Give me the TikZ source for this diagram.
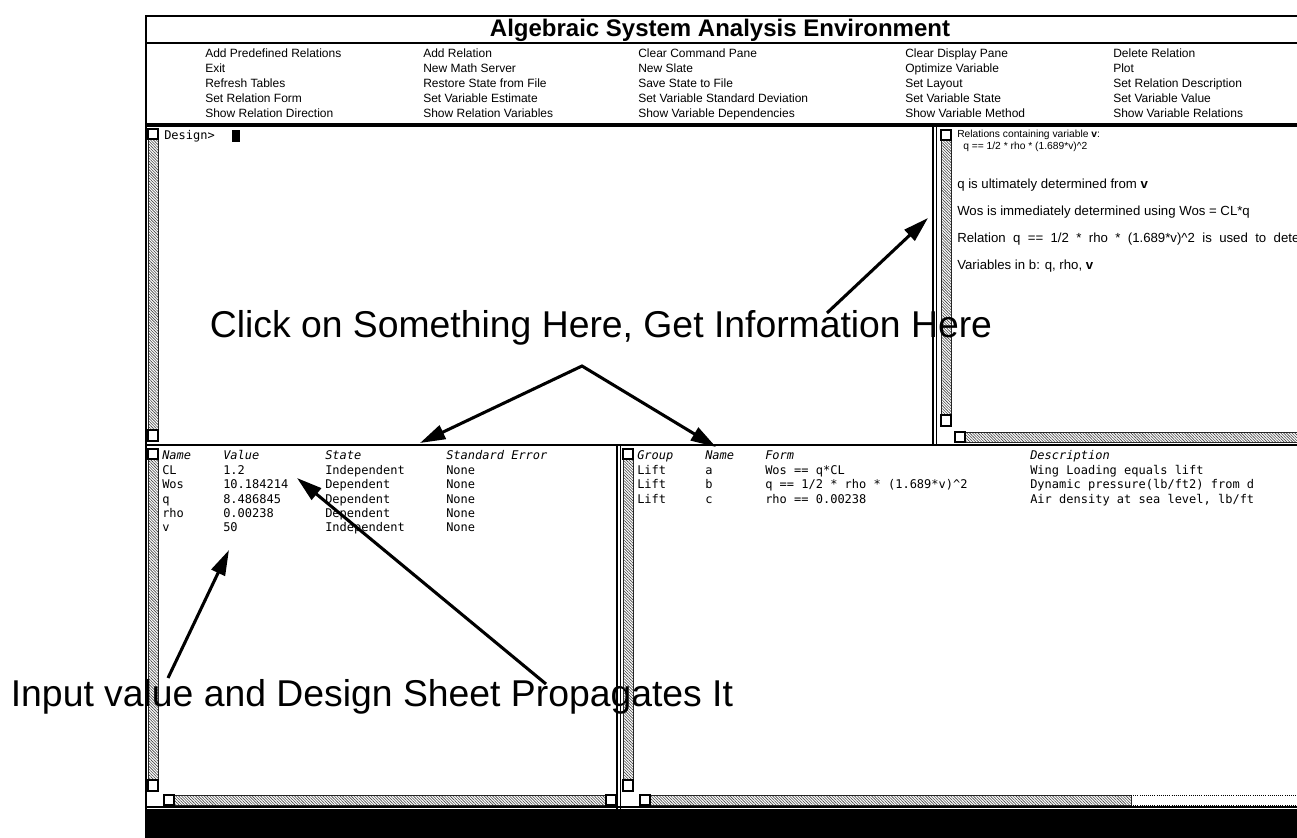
\documentclass[tikz,border=0pt]{standalone}
\usepackage{fontspec}
\setmainfont{Liberation Sans}
\newfontfamily\fixedfont{DejaVu Sans Mono}
\usetikzlibrary{arrows.meta,patterns.meta}
\tikzset{
hatched/.style={draw=black!85,line width=0.6pt,pattern={Lines[angle=-45,distance=1.5pt,line width=0.45pt]},pattern color=black!75},
thumb/.style={draw=black,fill=white,line width=0.8pt},
callout/.style={line width=2.3pt,-{Triangle[length=19pt,width=11pt]}},
menuitem/.style={anchor=base west,inner sep=0pt,font=\fontsize{9}{9}\selectfont},
infoline/.style={anchor=base west,inner sep=0pt,font=\fontsize{7.7}{7.7}\selectfont},
infobig/.style={anchor=base west,inner sep=0pt,font=\fontsize{9.9}{9.9}\selectfont},
cell/.style={anchor=base west,inner sep=0pt,font=\fixedfont\fontsize{9}{9}\selectfont},
headcell/.style={cell,font=\fixedfont\itshape\fontsize{9}{9}\selectfont},
caption/.style={inner sep=0pt,font=\fontsize{28}{28}\selectfont},
titletext/.style={inner sep=0pt,font=\bfseries\fontsize{18}{18}\selectfont}
}
\newcommand{\vslider}[3]{
\begin{scope}[shift={(#1,#2)}]
\draw[hatched] (0,10) rectangle (10,#3-#2-11);
\draw[thumb] (0,0) rectangle (10,10);
\draw[thumb] (0,#3-#2-11) rectangle (10,#3-#2);
\end{scope}
}
\newcommand{\hslider}[3]{
\begin{scope}[shift={(#2,#1)}]
\draw[hatched] (10,0) rectangle (#3-#2,10);
\draw[thumb] (0,0) rectangle (10,10);
\end{scope}
}
\newcommand{\menucol}[7]{
\node[menuitem] (#1a) at (#2,58) {#3};
\node[menuitem] (#1b) at (#2,73) {#4};
\node[menuitem] (#1c) at (#2,88) {#5};
\node[menuitem] (#1d) at (#2,103) {#6};
\node[menuitem] (#1e) at (#2,118) {#7};
}
\newcommand{\varrow}[6]{
\node[cell] (#1n) at (162,#2) {#3};
\node[cell] (#1v) at (223,#2) {#4};
\node[cell] (#1s) at (325,#2) {#5};
\node[cell] (#1e) at (446,#2) {#6};
}
\newcommand{\relrow}[6]{
\node[cell] (#1g) at (637,#2) {#3};
\node[cell] (#1n) at (705,#2) {#4};
\node[cell] (#1f) at (765,#2) {#5};
\node[cell] (#1d) at (1030,#2) {#6};
}
\begin{document}
\begin{tikzpicture}[x=0.75pt,y=-0.75pt]
\useasboundingbox (0,0) rectangle (1297,838);
\clip (0,0) rectangle (1297,838);
\draw[line width=1pt] (145,16) -- (1310,16);
\draw[line width=1pt] (146,16) -- (146,809);
\draw[line width=1.6pt] (145,43) -- (1310,43);
\draw[line width=2.4pt] (145,125) -- (1310,125);
\draw[line width=1.6pt] (145,445) -- (1310,445);
\draw[line width=0.8pt] (933,125) -- (933,445);
\draw[line width=1.2pt] (936.5,125) -- (936.5,445);
\draw[line width=0.8pt] (617,445) -- (617,809);
\draw[line width=0.8pt] (620.5,445) -- (620.5,809);
\draw[line width=1pt] (145,807) -- (1310,807);
\fill (145,809) rectangle (1310,838);
\node[titletext] (title) at (720,30) {Algebraic System Analysis Environment};
\menucol{colA}{205}{Add Predefined Relations}{Exit}{Refresh Tables}{Set Relation Form}{Show Relation Direction}
\menucol{colB}{423}{Add Relation}{New Math Server}{Restore State from File}{Set Variable Estimate}{Show Relation Variables}
\menucol{colC}{638}{Clear Command Pane}{New Slate}{Save State to File}{Set Variable Standard Deviation}{Show Variable Dependencies}
\menucol{colD}{905}{Clear Display Pane}{Optimize Variable}{Set Layout}{Set Variable State}{Show Variable Method}
\menucol{colE}{1113}{Delete Relation}{Plot}{Set Relation Description}{Set Variable Value}{Show Variable Relations}
\vslider{148}{129}{441}
\node[cell] (prompt) at (164,140) {Design>};
\fill (232,130) rectangle (240,142);
\vslider{941}{130}{426}
\hslider{432}{955}{1310}
\node[infoline] (info1) at (957,138) {Relations containing variable \textbf{v}:};
\node[infoline] (info2) at (963,150) {q == 1/2 * rho * (1.689*v)\textasciicircum 2};
\node[infobig] (info3) at (957,189) {q is ultimately determined from \textbf{v}};
\node[infobig] (info4) at (957,216) {Wos is immediately determined using Wos = CL*q};
\node[infobig] (info5) at (957,243) {\spaceskip=0.56em\relax Relation q == 1/2 * rho * (1.689*v)\textasciicircum 2 is used to dete};
\node[infobig] (info6) at (957,270) {Variables in b: q, rho, \textbf{v}};
\vslider{148}{449}{791}
\hslider{795}{164}{606}
\draw[thumb] (606,795) rectangle (616,805);
\node[headcell] (hname) at (162,459) {Name};
\node[headcell] (hvalue) at (223,459) {Value};
\node[headcell] (hstate) at (325,459) {State};
\node[headcell] (herror) at (446,459) {Standard Error};
\varrow{varCL}{474}{CL}{1.2}{Independent}{None}
\varrow{varWos}{488}{Wos}{10.184214}{Dependent}{None}
\varrow{varq}{503}{q}{8.486845}{Dependent}{None}
\varrow{varrho}{517}{rho}{0.00238}{Dependent}{None}
\varrow{varv}{531}{v}{50}{Independent}{None}
\vslider{623}{449}{791}
\hslider{795}{640}{1131}
\draw[densely dotted,line width=0.6pt] (1131,795) -- (1310,795);
\draw[densely dotted,line width=0.6pt] (1131,805) -- (1310,805);
\node[headcell] (hgroup) at (637,459) {Group};
\node[headcell] (hrname) at (705,459) {Name};
\node[headcell] (hform) at (765,459) {Form};
\node[headcell] (hdesc) at (1030,459) {Description};
\relrow{rela}{474}{Lift}{a}{Wos == q*CL}{Wing Loading equals lift}
\relrow{relb}{488}{Lift}{b}{q == 1/2 * rho * (1.689*v)\textasciicircum 2}{Dynamic pressure(lb/ft2) from d}
\relrow{relc}{503}{Lift}{c}{rho == 0.00238}{Air density at sea level, lb/ft}
\node[caption] (clickcap) at (601,328) {Click on Something Here, Get Information Here};
\node[caption] (inputcap) at (372,697) {Input value and Design Sheet Propagates It};
\coordinate (clicksrc) at (827,313);
\coordinate (infotip) at (928,218);
\coordinate (apex) at (582,366);
\coordinate (vartip) at (420,443);
\coordinate (reltip) at (716,447);
\coordinate (inputsrc) at (168,678);
\coordinate (inputtip) at (229,550);
\coordinate (propsrc) at (546,684);
\coordinate (proptip) at (297,478);
\draw[callout] (clicksrc) -- (infotip);
\draw[callout,{Triangle[length=19pt,width=11pt]}-{Triangle[length=19pt,width=11pt]}] (vartip) -- (apex) -- (reltip);
\draw[callout] (inputsrc) -- (inputtip);
\draw[callout] (propsrc) -- (proptip);
\end{tikzpicture}
\end{document}
